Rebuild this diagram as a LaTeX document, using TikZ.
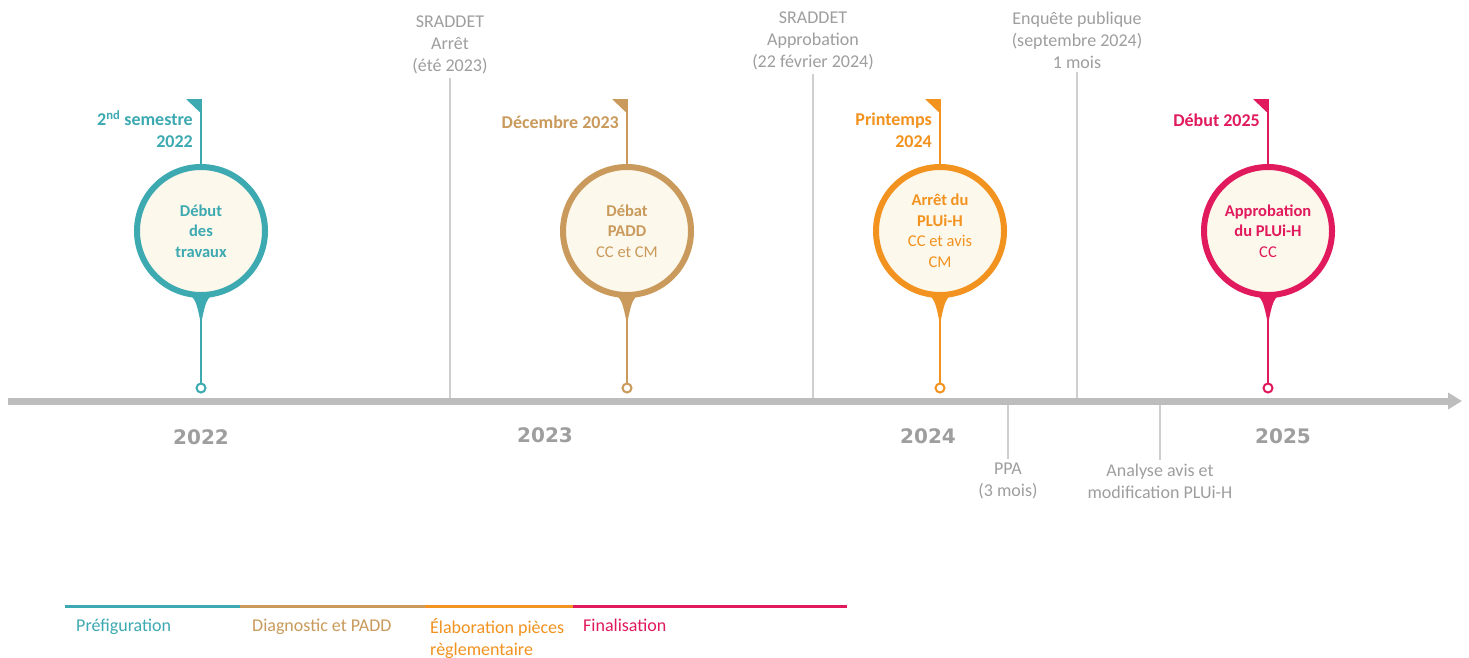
\documentclass[tikz,border=0pt]{standalone}
\usepackage{fontspec}
\setmainfont{Carlito}
\newfontfamily\anneefont{DejaVu Sans}
\usetikzlibrary{arrows.meta}
\definecolor{prefig}{HTML}{3DA9B1}
\definecolor{diag}{HTML}{C99A5B}
\definecolor{elab}{HTML}{F2921F}
\definecolor{final}{HTML}{E01A5C}
\definecolor{creme}{HTML}{FDF8EC}
\definecolor{gristxt}{HTML}{9E9E9E}
\definecolor{grisaxe}{HTML}{BDBDBD}
\definecolor{grisligne}{HTML}{CFCFCF}
\tikzset{
 bulle/.style={circle,draw=#1,line width=6pt,fill=creme,minimum size=128pt,inner sep=0pt,text=#1,align=center,font=\fontsize{16.5}{20.5}\selectfont},
 point/.style={circle,draw=#1,line width=2pt,fill=white,minimum size=9pt,inner sep=0pt},
 date/.style={text=#1,align=right,anchor=east,inner sep=0pt,font=\bfseries\fontsize{18}{22}\selectfont},
 gris/.style={text=gristxt,align=center,font=\fontsize{18}{22}\selectfont},
 repere/.style={grisligne,line width=1.5pt},
 annee/.style={text=gristxt,font=\anneefont\bfseries\fontsize{20}{24}\selectfont},
 legende/.style={anchor=north west,align=left,inner sep=0pt,text=#1,font=\fontsize{18}{22}\selectfont},
}
\begin{document}
\begin{tikzpicture}[x=1pt,y=-1pt]
\useasboundingbox[fill=white](0,0)rectangle(1469,657);
\coordinate(axe)at(0,401);
%repères gris
\node[gris](sa)at(450,45){SRADDET\\Arrêt\\(été 2023)};
\node[gris](sb)at(813,41){SRADDET\\Approbation\\(22 février 2024)};
\node[gris](ep)at(1077,40){Enquête publique\\(septembre 2024)\\1 mois};
\node[gris](ppa)at(1008,481){PPA\\(3 mois)};
\node[gris](ana)at(1160,481){Analyse avis et\\modification PLUi-H};
\draw[repere](sa.south)--(sa.south|-axe);
\draw[repere](sb.south)--(sb.south|-axe);
\draw[repere](ep.south)--(ep.south|-axe);
\draw[repere](ppa.north|-axe)--(ppa.north);
\draw[repere](ana.north|-axe)--(ana.north);
%axe du temps
\draw[-{Triangle[length=14pt,width=16pt]},grisaxe,line width=7pt](8,401)--(1462,401);
\node[annee](a22)at(201,437){2022};
\node[annee](a23)at(545,435){2023};
\node[annee](a24)at(928,436){2024};
\node[annee](a25)at(1283,436){2025};
%jalons
\foreach \x/\c/\n/\yd/\d/\t in {
 201/prefig/a/129/{2\textsuperscript{nd} semestre\\2022}/{\textbf{Début}\\\textbf{des}\\\textbf{travaux}},
 627/diag/b/122/{Décembre 2023}/{\textbf{Débat}\\\textbf{PADD}\\CC et CM},
 940/elab/c/130/{Printemps\\2024}/{\textbf{Arrêt du}\\\textbf{PLUi-H}\\CC et avis\\CM},
 1268/final/d/120/{Début 2025}/{\textbf{Approbation}\\\textbf{du PLUi-H}\\CC}}
{
 \fill[\c](\x-15,291)..controls(\x-5,300)..(\x,324)..controls(\x+5,300)..(\x+15,291)--cycle;
 \node[bulle=\c](c\n)at(\x,231){\t};
 \node[point=\c](p\n)at(\x,388){};
 \draw[\c,line width=1.5pt](\x,99)--(c\n.north);
 \draw[\c,line width=1.5pt](\x,320)--(p\n.north);
 \fill[\c](\x-15,99)--(\x+0.75,99)--(\x+0.75,114)--cycle;
 \node[date=\c](d\n)at(\x-8,\yd){\d};
}
%légende
\draw[prefig,line width=3pt](65,606)--(240,606);
\draw[diag,line width=3pt](240,606)--(425,606);
\draw[elab,line width=3pt](425,606)--(573,606);
\draw[final,line width=3pt](573,606)--(847,606);
\node[legende=prefig](l1)at(76,619){Préfiguration};
\node[legende=diag](l2)at(252,619){Diagnostic et PADD};
\node[legende=elab](l3)at(430,618){Élaboration pièces\\règlementaire};
\node[legende=final](l4)at(583,619){Finalisation};
\end{tikzpicture}
\end{document}
